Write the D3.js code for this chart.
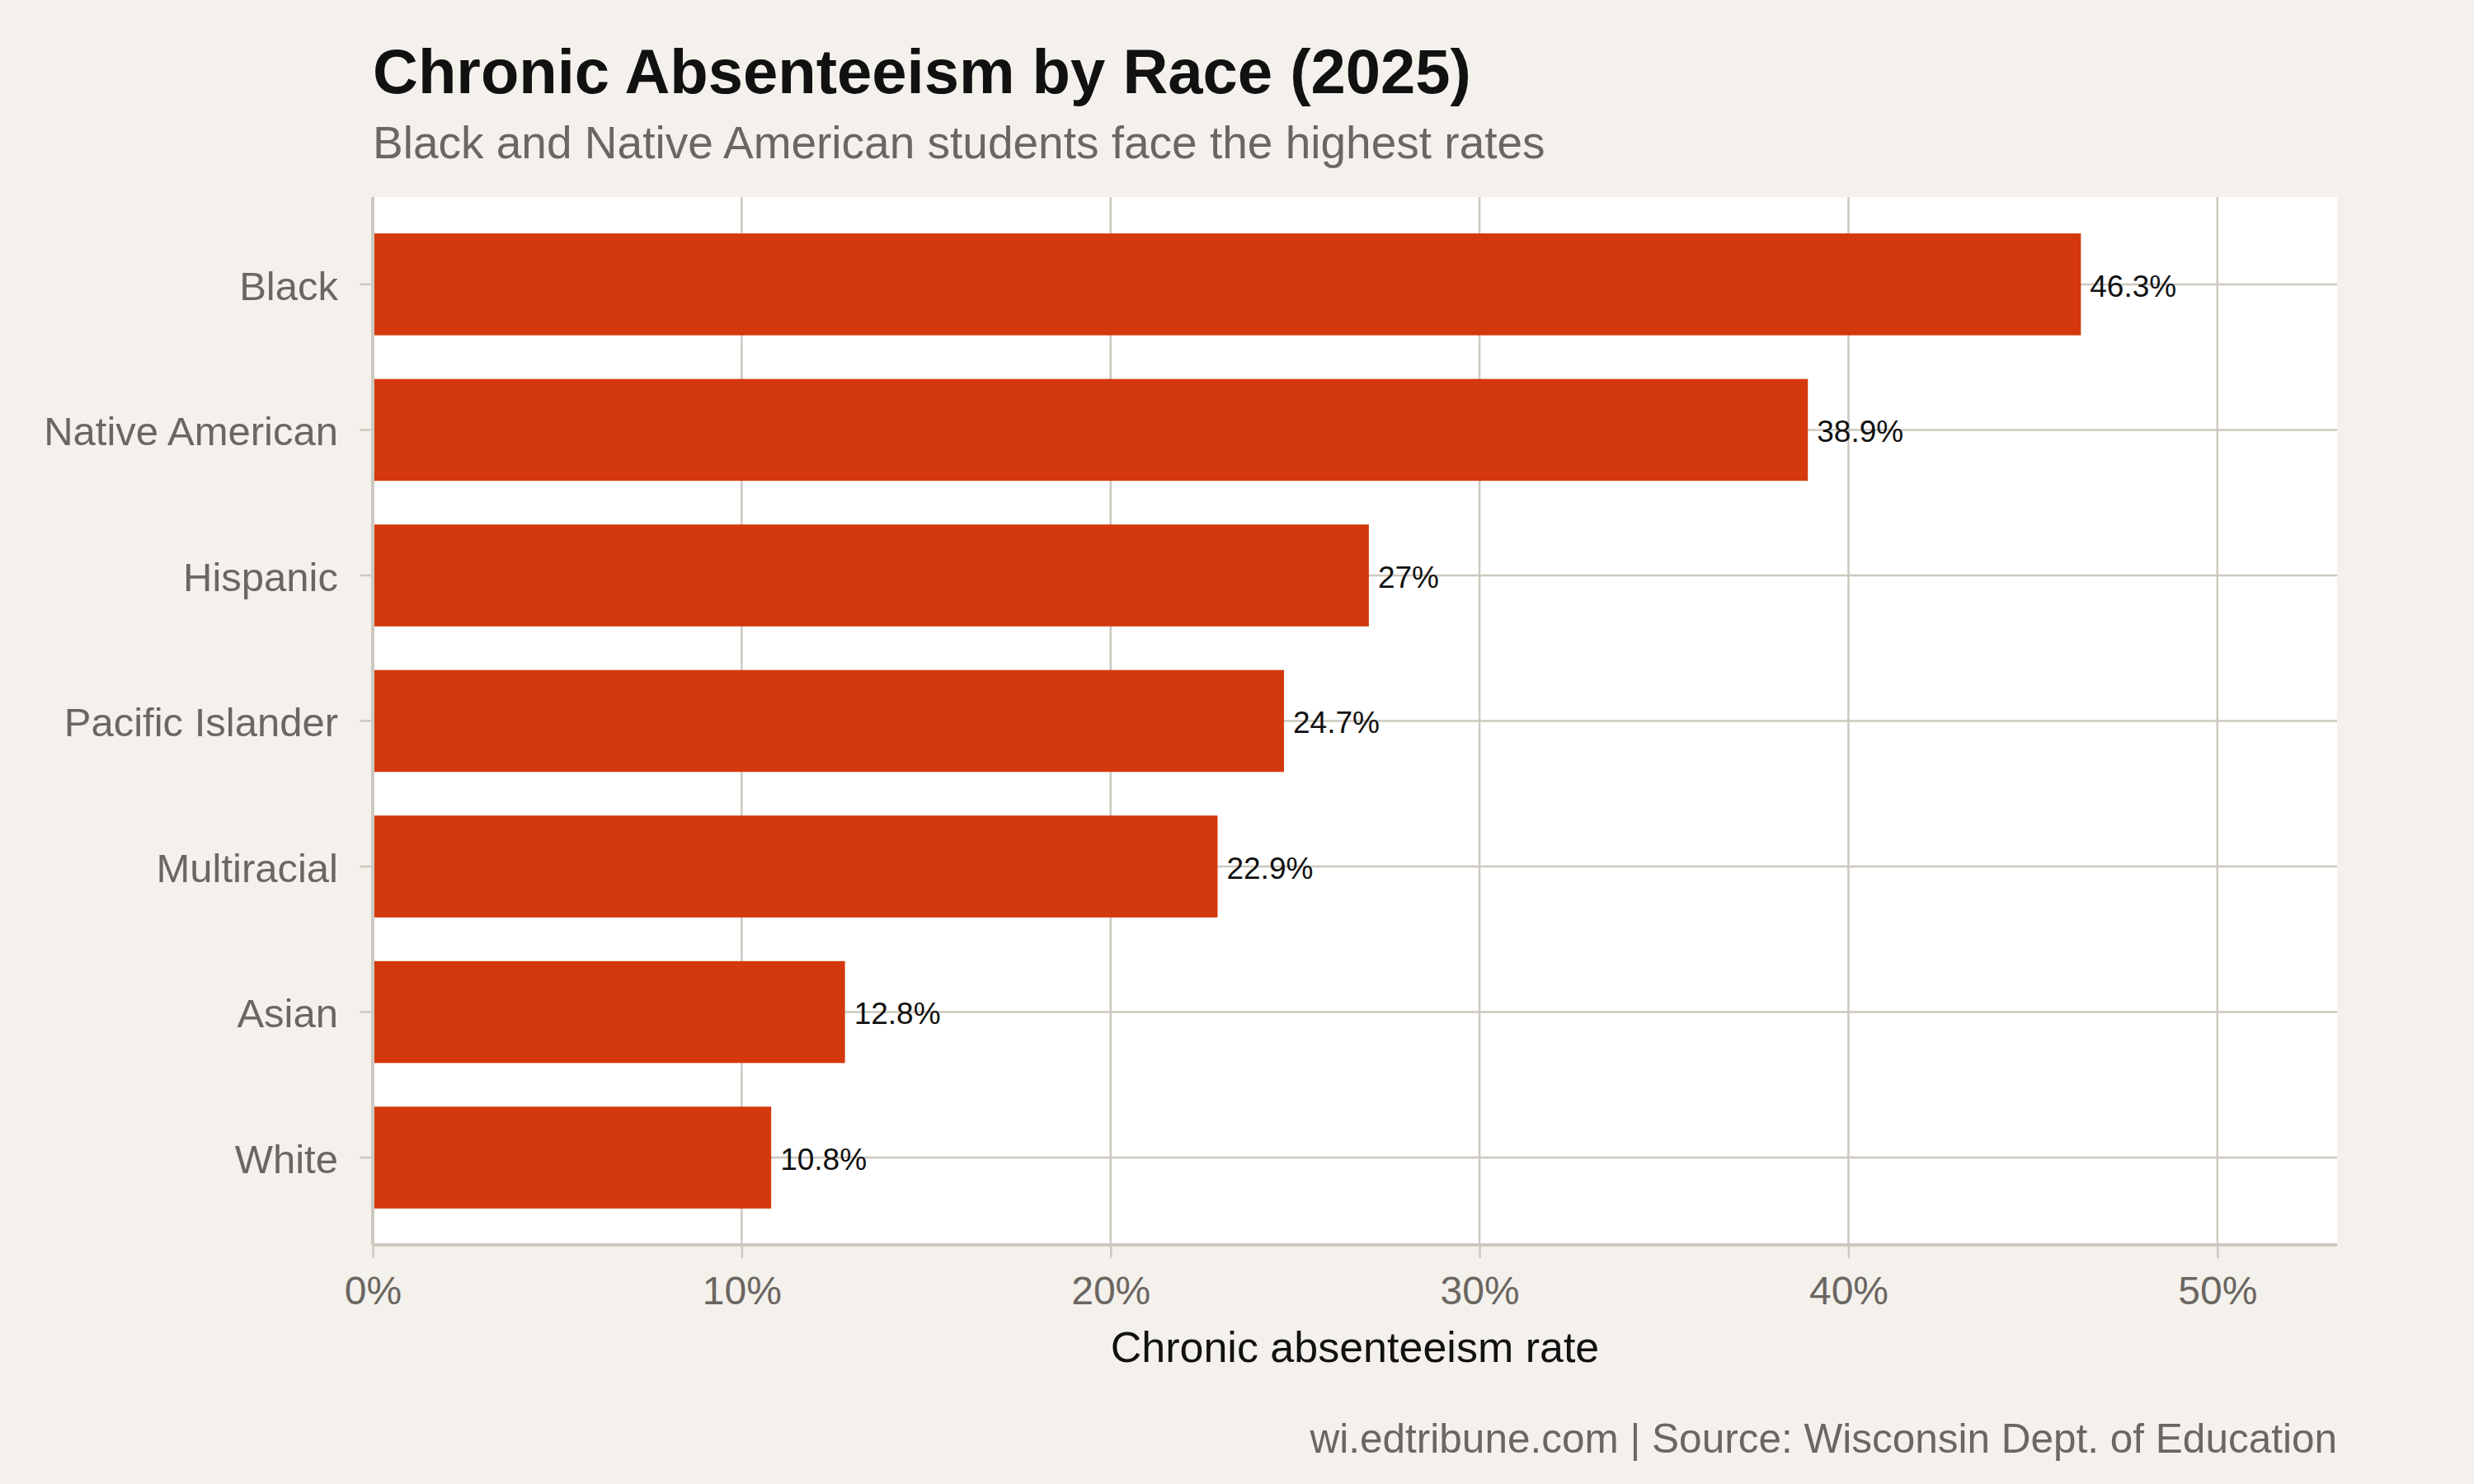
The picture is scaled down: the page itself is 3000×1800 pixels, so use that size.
<!DOCTYPE html>
<html>
<head>
<meta charset="utf-8">
<script src="https://cdn.jsdelivr.net/npm/d3@7"></script>
<style>
  body { margin: 0; background: #f4f1ec; }
  text { font-family: "Liberation Sans", Arial, sans-serif; }
</style>
</head>
<body>
<svg width="3000" height="1800"></svg>
<script>
// data
var groups = ["Black", "Native American", "Hispanic", "Pacific Islander", "Multiracial", "Asian", "White"];
var rates = [46.3, 38.9, 27, 24.7, 22.9, 12.8, 10.8];
var xTicks = [0, 10, 20, 30, 40, 50];

var data = groups.map(function(g, i) { return {group: g, rate: rates[i]}; });

var svg = d3.select("svg"),
    margin = {top: 239, right: 166, bottom: 290, left: 452},
    width = +svg.attr("width") - margin.left - margin.right,
    height = +svg.attr("height") - margin.top - margin.bottom;

svg.append("rect")
    .attr("width", 3000)
    .attr("height", 1800)
    .attr("fill", "#f4f1ec");

var g = svg.append("g").attr("transform", "translate(" + margin.left + "," + margin.top + ")");

var x = d3.scaleLinear().domain([0, d3.max(rates) * 1.15]).range([0, width]);
var y = d3.scaleBand().domain(groups).range([0, height]).paddingInner(0.3).paddingOuter(0.25);

var gridColor = "#cdc8bf";

// panel
g.append("rect")
    .attr("width", width)
    .attr("height", height)
    .attr("fill", "#ffffff");

// grid
g.selectAll(".vgrid")
  .data(xTicks)
  .join("line")
    .attr("class", "vgrid")
    .attr("x1", d => x(d)).attr("x2", d => x(d))
    .attr("y1", 0).attr("y2", height)
    .attr("stroke", gridColor)
    .attr("stroke-width", 2.5);

g.selectAll(".hgrid")
  .data(groups)
  .join("line")
    .attr("class", "hgrid")
    .attr("x1", 0).attr("x2", width)
    .attr("y1", d => y(d) + y.bandwidth() / 2)
    .attr("y2", d => y(d) + y.bandwidth() / 2)
    .attr("stroke", gridColor)
    .attr("stroke-width", 2.5);

// bars
g.selectAll(".bar")
  .data(data)
  .join("rect")
    .attr("class", "bar")
    .attr("x", x(0))
    .attr("y", d => y(d.group))
    .attr("width", d => x(d.rate) - x(0))
    .attr("height", y.bandwidth())
    .attr("fill", "#d4380d");

// value labels
g.selectAll(".val")
  .data(data)
  .join("text")
    .attr("class", "val")
    .attr("x", d => x(d.rate) + 11)
    .attr("y", d => y(d.group) + y.bandwidth() / 2)
    .attr("dy", "0.4em")
    .attr("fill", "#111")
    .style("font-size", "37px")
    .text(d => d.rate + "%");

// axes
var xAxis = g.append("g")
    .attr("transform", "translate(0," + height + ")")
    .call(d3.axisBottom(x).tickValues(xTicks).tickFormat(d => d + "%").tickSize(16).tickPadding(22));
var yAxis = g.append("g")
    .call(d3.axisLeft(y).tickSize(16).tickPadding(26));

[xAxis, yAxis].forEach(function(a) {
    a.select(".domain").attr("stroke", gridColor).attr("stroke-width", 4);
    a.selectAll(".tick line").attr("stroke", gridColor).attr("stroke-width", 2.5);
    a.selectAll(".tick text")
        .attr("fill", "#6b6661")
        .style("font-family", "'Liberation Sans', Arial, sans-serif");
});
xAxis.selectAll(".tick text").style("font-size", "48px");
yAxis.selectAll(".tick text").style("font-size", "49px").attr("dy", "0.38em");
xAxis.select(".domain").attr("d", "M0,0H" + width);
yAxis.select(".domain").attr("d", "M0,0V" + height);

// title
svg.append("text")
    .attr("x", margin.left)
    .attr("y", 113)
    .attr("fill", "#111")
    .style("font-size", "76px")
    .style("font-weight", "bold")
    .text("Chronic Absenteeism by Race (2025)");

svg.append("text")
    .attr("x", margin.left)
    .attr("y", 192)
    .attr("fill", "#6b6661")
    .style("font-size", "55px")
    .text("Black and Native American students face the highest rates");

// x axis title
svg.append("text")
    .attr("x", margin.left + width / 2)
    .attr("y", 1652)
    .attr("text-anchor", "middle")
    .attr("fill", "#111")
    .style("font-size", "52px")
    .text("Chronic absenteeism rate");

// caption
svg.append("text")
    .attr("x", margin.left + width)
    .attr("y", 1762)
    .attr("text-anchor", "end")
    .attr("fill", "#6b6661")
    .style("font-size", "49.5px")
    .text("wi.edtribune.com | Source: Wisconsin Dept. of Education");
</script>
</body>
</html>
